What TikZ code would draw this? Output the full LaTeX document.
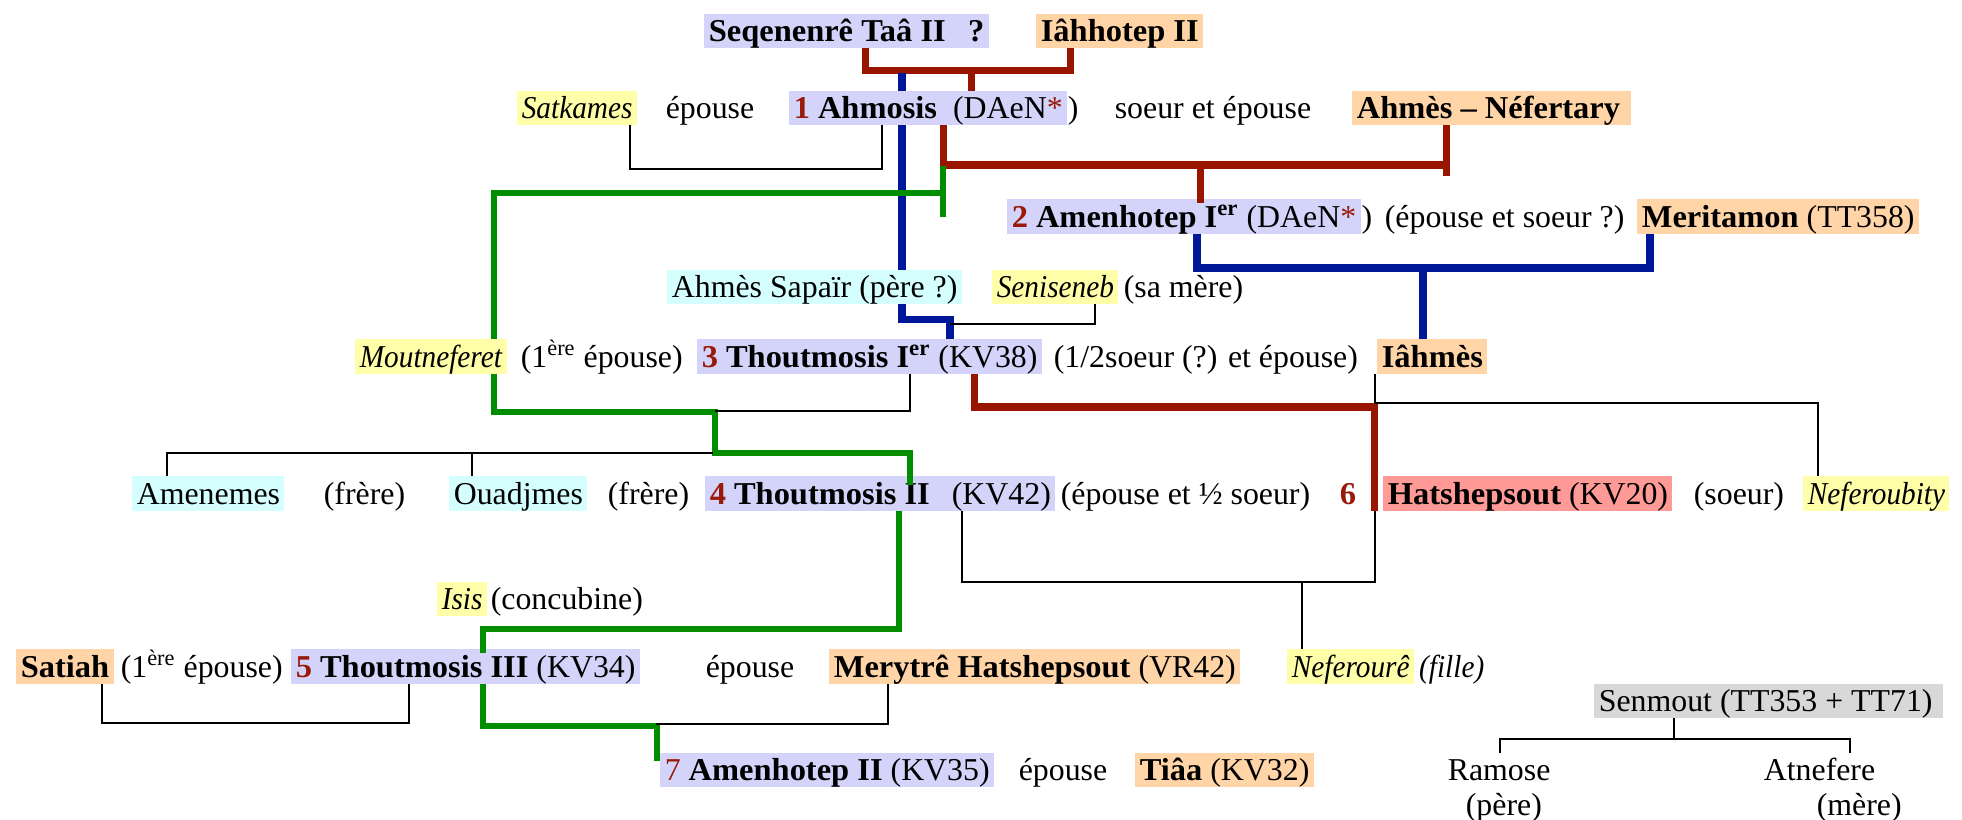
\documentclass[tikz,border=0pt]{standalone}
\usepackage{fontspec}
\setmainfont{Liberation Serif}[ItalicFeatures={FakeStretch=0.92},BoldFeatures={FakeStretch=1.02}]
\usetikzlibrary{positioning}
\definecolor{lav}{HTML}{D4D4FB}
\definecolor{peche}{HTML}{FFD5A8}
\definecolor{jaune}{HTML}{FFFFAA}
\definecolor{cyan1}{HTML}{D5FFFF}
\definecolor{saumon}{HTML}{FF9A96}
\definecolor{gris}{HTML}{D8D8D8}
\definecolor{numred}{HTML}{9A1A0A}
\definecolor{lrouge}{HTML}{991500}
\definecolor{lbleu}{HTML}{00179A}
\definecolor{lvert}{HTML}{008D00}
\newcommand{\rangnum}[1]{\textcolor{numred}{\textbf{#1}}}
\newcommand{\etoile}{\textcolor{numred}{*}}
\begin{document}
\begin{tikzpicture}[x=0.016cm,y=-0.016cm,font=\fontsize{14.5}{17}\selectfont,
  txt/.style={anchor=west,inner xsep=2pt,inner ysep=0pt,text height=12.7pt,text depth=2.8pt},
  roi/.style={txt,fill=lav},
  reine/.style={txt,fill=peche},
  femme/.style={txt,fill=jaune},
  proche/.style={txt,fill=cyan1},
  hatsh/.style={txt,fill=saumon},
  noble/.style={txt,fill=gris},
  rouge/.style={draw=lrouge,line width=3.2pt},
  bleu/.style={draw=lbleu,line width=3.4pt},
  vert/.style={draw=lvert,line width=3pt},
  fin/.style={draw=black,line width=0.9pt}]
\useasboundingbox (0,0) rectangle (1962,819);

\node[roi] (seq) at (704,31) {\textbf{Seqenenrê Taâ II\hspace{0.7em}?}};
\node[reine] (iah) at (1036,31) {\textbf{Iâhhotep II}};

\node[femme] (sat) at (517,108) {\textit{Satkames}};
\node[txt] (ep1) at (661,108) {épouse};
\node[roi] (ahm) at (789,108) {\rangnum{1} \textbf{Ahmosis}\ \ (DAeN\etoile};
\node[txt,inner xsep=0pt,right=0pt of ahm] (ahmp) {)};
\node[txt] (soeur1) at (1110,108) {soeur et épouse};
\node[reine] (nef) at (1352,108) {\textbf{Ahmès – Néfertary}\kern0.2em};

\node[roi] (amen1) at (1007,216.5) {\rangnum{2} \textbf{Amenhotep I\textsuperscript{er}} (DAeN\etoile};
\node[txt,inner xsep=0pt,right=0pt of amen1] (amen1p) {)};
\node[txt] (ep2) at (1380,216.5) {(épouse et soeur ?)};
\node[reine] (merit) at (1637,216.5) {\textbf{Meritamon} (TT358)};

\node[proche] (sapair) at (667,287) {Ahmès Sapaïr (père ?)};
\node[femme] (senis) at (992,287) {\textit{Seniseneb}};
\node[txt] (samere) at (1119,287) {(sa mère)};

\node[femme] (mout) at (355,356.5) {\textit{Moutneferet}};
\node[txt] (mout1) at (516,356.5) {(1\textsuperscript{ère} épouse)};
\node[roi] (thout1) at (697,356.5) {\rangnum{3} \textbf{Thoutmosis I\textsuperscript{er}} (KV38)};
\node[txt] (soeur2) at (1049,356.5) {(1/2soeur (?) et épouse)};
\node[reine] (iahmes) at (1377,356.5) {\textbf{Iâhmès}};

\node[proche] (amenemes) at (132,493.5) {Amenemes};
\node[txt] (frere1) at (319,493.5) {(frère)};
\node[proche] (ouadj) at (449,493.5) {Ouadjmes};
\node[txt] (frere2) at (603,493.5) {(frère)};
\node[roi] (thout2) at (705,493.5) {\rangnum{4} \textbf{Thoutmosis II}\kern0.45em};
\node[roi] (kv42) at (947,493.5) {(KV42)};
\node[txt] (ep3) at (1056,493.5) {(épouse et ½ soeur)};
\node[txt] (six) at (1335,493.5) {\rangnum{6}};
\node[hatsh] (hatch) at (1383,493.5) {\textbf{Hatshepsout} (KV20)};
\node[txt] (soeur3) at (1689,493.5) {(soeur)};
\node[femme] (neferoub) at (1803,493.5) {\textit{Neferoubity}};

\node[femme] (isis) at (437,599) {\textit{Isis}};
\node[txt] (concub) at (486,599) {(concubine)};

\node[reine] (satiah) at (16,666.5) {\textbf{Satiah}};
\node[txt] (satiah1) at (116,666.5) {(1\textsuperscript{ère} épouse)};
\node[roi] (thout3) at (291,666.5) {\rangnum{5} \textbf{Thoutmosis III} (KV34)};
\node[txt] (ep4) at (701,666.5) {épouse};
\node[reine] (meryt) at (829,666.5) {\textbf{Merytrê Hatshepsout} (VR42)};
\node[femme] (neferoure) at (1287,666.5) {\textit{Neferourê}};
\node[txt,right=0pt of neferoure] (fille) {\textit{(fille)}};

\node[noble] (senmout) at (1594,701) {Senmout (TT353 + TT71)\kern0.2em};

\node[roi] (amen2) at (660,770) {\textcolor{numred}{7} \textbf{Amenhotep II} (KV35)};
\node[txt] (ep5) at (1014,770) {épouse};
\node[reine] (tiaa) at (1135,770) {\textbf{Tiâa} (KV32)};
\node[txt] (ramose) at (1443,770) {Ramose};
\node[txt] (pere) at (1461,805) {(père)};
\node[txt] (atnef) at (1759,770) {Atnefere};
\node[txt] (mere) at (1812,805) {(mère)};

\coordinate (b1) at (971,70);
\coordinate (b1b) at (902,73);
\coordinate (b2) at (1200,165);
\coordinate (b2g) at (943,166);
\coordinate (b2v) at (943,193);
\coordinate (b3) at (1423,267);
\coordinate (b4) at (1302,582);
\coordinate (b5) at (1674,739);

\draw[rouge] (seq.south -| 865,0) -- ++(0,22) -| (iah.south -| 1070,0);
\draw[rouge] (b1) -- (ahm.north -| b1);
\draw[bleu] (b1b) -- (ahm.north -| b1b);
\draw[bleu] (ahm.south -| b1b) -- (sapair.north -| b1b);
\draw[bleu] (sapair.south -| b1b) -- ++(0,15) -| (thout1.north -| 950,0);
\draw[fin] (sat.south -| 630,0) -- ++(0,44) -| (ahm.south -| 882,0);

\draw[rouge] (ahm.south -| b2g) |- (1446,165);
\draw[rouge] (nef.south -| 1446,0) -- ++(0,51);
\draw[rouge,shorten >=-2pt] (b2) -- (amen1.north -| b2);
\draw[vert] (b2g) -- ++(0,51);
\draw[vert] (b2v) -| (mout.north -| 494,0);

\draw[bleu] (amen1.south -| 1197,0) -- ++(0,34) -| (merit.south -| 1650,0);
\draw[bleu] (b3) -- (iahmes.north -| b3);
\draw[fin] (senis.south -| 1095,0) |- (950,324);

\draw[vert,shorten >=-4pt] (mout.south -| 494,0) |- (715,412) -- (715,453) -| (thout2.north -| 910,0);
\draw[fin] (thout1.south -| 910,0) |- (715,411);
\draw[fin] (amenemes.north -| 167,0) |- (713,453);
\draw[fin] (ouadj.north -| 472,0) -- (472,453);
\draw[rouge] (thout1.south -| 974,0) |- (1374,407) -- (hatch.south -| 1374,0);
\draw[fin] (iahmes.south -| 1375,0) |- (1818,403) -- (neferoub.north -| 1818,0);

\draw[fin] (kv42.south -| 962,0) |- (1375,582) -- (hatch.south -| 1375,0);
\draw[fin] (b4) -- (neferoure.north -| b4);
\draw[vert,shorten >=-2pt] (thout2.south -| 899,0) |- (483,629) -- (thout3.north -| 483,0);

\draw[fin] (satiah.south -| 102,0) |- (409,723) -- (thout3.south -| 409,0);
\draw[vert,shorten >=-4pt] (thout3.south -| 483,0) |- (657,726) -- (amen2.north -| 657,0);
\draw[fin] (meryt.south -| 888,0) |- (656,724);

\draw[fin] (senmout.south -| 1674,0) -- (b5);
\draw[fin] (ramose.north -| 1500,0) |- (1850,739) -- (atnef.north -| 1850,0);
\end{tikzpicture}
\end{document}
